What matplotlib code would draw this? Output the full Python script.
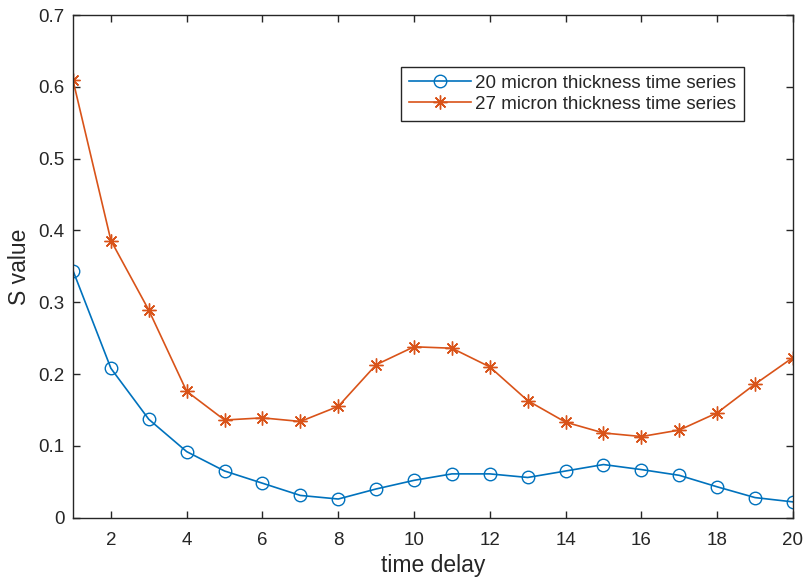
import numpy as np
import matplotlib.pyplot as plt

plt.rcParams['font.family'] = ['Liberation Sans', 'DejaVu Sans']

# time delay values and S values for the two thickness series
delay = np.arange(1, 21)
s_20 = [0.344, 0.208, 0.137, 0.092, 0.065, 0.048, 0.031, 0.026, 0.040, 0.052,
        0.061, 0.061, 0.056, 0.065, 0.074, 0.067, 0.059, 0.043, 0.028, 0.022]
s_27 = [0.609, 0.386, 0.289, 0.176, 0.136, 0.139, 0.134, 0.155, 0.213, 0.238,
        0.236, 0.210, 0.163, 0.133, 0.118, 0.113, 0.122, 0.146, 0.186, 0.223]
names = ["20 micron thickness time series", "27 micron thickness time series"]

axcol = "#262626"

fig = plt.figure(figsize=(8.05, 5.82), dpi=100)
ax = fig.add_axes([0.0907, 0.1105, 0.8943, 0.8637])

ax.plot(delay, s_20, color="#0072BD", marker="o", markersize=9,
        markerfacecolor="none", linewidth=1.2, label=names[0])
ax.plot(delay, s_27, color="#D95319", marker=(8, 2, 0), markersize=10,
        markeredgewidth=1.0, linewidth=1.2, label=names[1])

ax.set_xlim(1, 20)
ax.set_ylim(0, 0.7)
ax.set_xticks(range(2, 21, 2))
ax.set_yticks(np.arange(0, 0.71, 0.1))
ax.set_yticklabels(["0", "0.1", "0.2", "0.3", "0.4", "0.5", "0.6", "0.7"])

ax.tick_params(direction="in", top=True, right=True, length=5, width=1,
               color=axcol, labelcolor=axcol, labelsize=13.5)
ax.tick_params(axis="x", pad=10)
ax.tick_params(axis="y", pad=6)
for s in ax.spines.values():
    s.set_color(axcol)
    s.set_linewidth(1)

ax.set_xlabel("time delay", fontsize=16.5, color=axcol, labelpad=4)
ax.set_ylabel("S value", fontsize=16.5, color=axcol, labelpad=5)

leg = ax.legend(loc="upper left", bbox_to_anchor=(0.4556, 0.8966),
                borderaxespad=0, fontsize=13.5, handlelength=3.3,
                fancybox=False, framealpha=1, edgecolor=axcol,
                borderpad=0.42, labelspacing=0.2, handletextpad=0.25)
leg.get_frame().set_linewidth(1)
for t in leg.get_texts():
    t.set_color(axcol)

fig.savefig("out.png", dpi=100)
